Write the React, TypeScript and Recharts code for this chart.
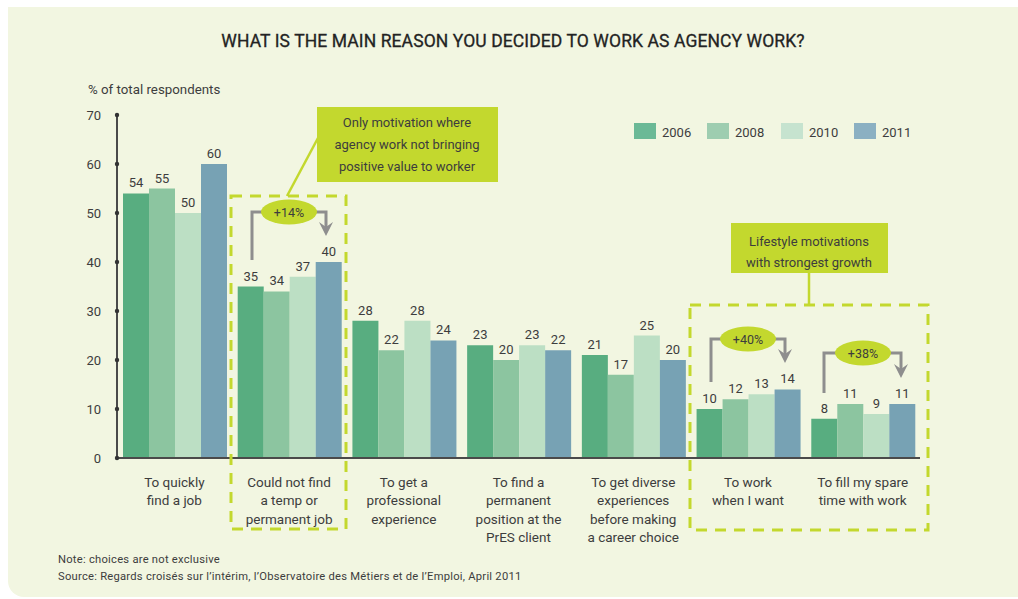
import { BarChart, Bar, XAxis, YAxis, LabelList, Legend } from 'recharts'

const categories = [
  'To quickly\nfind a job',
  'Could not find\na temp or\npermanent job',
  'To get a\nprofessional\nexperience',
  'To find a\npermanent\nposition at the\nPrES client',
  'To get diverse\nexperiences\nbefore making\na career choice',
  'To work\nwhen I want',
  'To fill my spare\ntime with work',
]
const v2006 = [54, 35, 28, 23, 21, 10, 8]
const v2008 = [55, 34, 22, 20, 17, 12, 11]
const v2010 = [50, 37, 28, 23, 25, 13, 9]
const v2011 = [60, 40, 24, 22, 20, 14, 11]
const yTicks = [0, 10, 20, 30, 40, 50, 60, 70]

const series = [
  { key: 'y2006', name: '2006', color: '#58ad80', legend: '#6bb996' },
  { key: 'y2008', name: '2008', color: '#8cc5a0', legend: '#9ecdb0' },
  { key: 'y2010', name: '2010', color: '#bcdfc4', legend: '#c6e3cf' },
  { key: 'y2011', name: '2011', color: '#77a2b4', legend: '#8bb0c2' },
]

const data = categories.map((c, i) => ({
  name: c,
  y2006: v2006[i],
  y2008: v2008[i],
  y2010: v2010[i],
  y2011: v2011[i],
}))

const FONT = 'Roboto, "DejaVu Sans", sans-serif'
const TEXT = '#3d3d3d'
const LIME = '#c3d82e'
const GRAY = '#8e8e8e'

function YTick(props: any) {
  const { x, y, payload } = props
  return (
    <g>
      <circle cx={x + 16} cy={y} r={2.2} fill="#333" />
      <text x={x} y={y + 5} textAnchor="end" fontSize={13} fill={TEXT} fontFamily={FONT}>
        {payload.value}
      </text>
    </g>
  )
}

function XTick(props: any) {
  const { x, y, payload } = props
  const lines = String(payload.value).split('\n')
  return (
    <text x={x} y={y} textAnchor="middle" fontSize={13.5} fill={TEXT} fontFamily={FONT}>
      {lines.map((l, i) => (
        <tspan key={i} x={x} y={y + 29 + i * 18.3}>
          {l}
        </tspan>
      ))}
    </text>
  )
}

function LegendBox() {
  const xs = [634, 707, 781, 854]
  return (
    <svg width={300} height={24} style={{ overflow: 'visible', display: 'block' }}>
      {series.map((s, i) => (
        <g key={s.key}>
          <rect x={xs[i] - 634} y={0} width={22} height={16} fill={s.legend} />
          <text x={xs[i] - 634 + 28} y={14} fontSize={13} fill={TEXT} fontFamily={FONT}>
            {s.name}
          </text>
        </g>
      ))}
    </svg>
  )
}

function Arrow({ x, y }: { x: number; y: number }) {
  return <path d={`M${x},${y} L${x - 7},${y - 14} L${x},${y - 9} L${x + 7},${y - 14} Z`} fill={GRAY} />
}

function Growth({ cx, cy, left, leftBottom, right, tip, label }: any) {
  return (
    <g>
      <path d={`M${left},${leftBottom} L${left},${cy} L${cx - 26},${cy}`} stroke={GRAY} strokeWidth={3} fill="none" />
      <path d={`M${cx + 26},${cy} L${right},${cy} L${right},${tip - 6}`} stroke={GRAY} strokeWidth={3} fill="none" />
      <Arrow x={right} y={tip} />
      <ellipse cx={cx} cy={cy} rx={28} ry={12.5} fill={LIME} />
      <text x={cx} y={cy + 4.5} textAnchor="middle" fontSize={12.5} fill={TEXT} fontFamily={FONT}>
        {label}
      </text>
    </g>
  )
}

function Annotations() {
  return (
    <svg width={1018} height={599} style={{ position: 'absolute', left: 0, top: 0, pointerEvents: 'none' }}>
      {/* box 1 */}
      <rect x={231} y={196} width={115} height={333} fill="none" stroke={LIME} strokeWidth={3} strokeDasharray="11 8" />
      <line x1={318} y1={138} x2={287} y2={196} stroke={LIME} strokeWidth={2.5} />
      <rect x={317} y={107} width={181} height={75} fill={LIME} />
      {['Only motivation where', 'agency work not bringing', 'positive value to worker'].map((t, i) => (
        <text key={i} x={407} y={127 + i * 22} textAnchor="middle" fontSize={13} fill={TEXT} fontFamily={FONT}>
          {t}
        </text>
      ))}
      <Growth cx={289} cy={212} left={252} leftBottom={260} right={326} tip={236} label="+14%" />

      {/* box 2 */}
      <rect x={690} y={305} width={238} height={225} fill="none" stroke={LIME} strokeWidth={3} strokeDasharray="11 8" />
      <line x1={809} y1={272} x2={809} y2={305} stroke={LIME} strokeWidth={2.5} />
      <rect x={731} y={223} width={157} height={50} fill={LIME} />
      {['Lifestyle motivations', 'with strongest growth'].map((t, i) => (
        <text key={i} x={809} y={246 + i * 21} textAnchor="middle" fontSize={13} fill={TEXT} fontFamily={FONT}>
          {t}
        </text>
      ))}
      <Growth cx={748} cy={339} left={711} leftBottom={382} right={785} tip={363} label="+40%" />
      <Growth cx={863} cy={353} left={824} leftBottom={393} right={901} tip={378} label="+38%" />
    </svg>
  )
}

export default function App() {
  return (
    <div style={{ position: 'absolute', left: 0, top: 0, width: 1018, height: 599, background: '#fff', fontFamily: FONT }}>
      <div
        style={{
          position: 'absolute',
          left: 8,
          top: 7,
          width: 1010,
          height: 590,
          background: '#f2f6e1',
          borderBottomLeftRadius: 16,
        }}
      />
      <div style={{ position: 'absolute', left: 0, top: 31, width: 1026, textAlign: 'center', fontSize: 17.5, fontWeight: 400, color: '#232323', letterSpacing: 0.1, WebkitTextStroke: '0.3px #232323' }}>
        WHAT IS THE MAIN REASON YOU DECIDED TO WORK AS AGENCY WORK?
      </div>
      <div style={{ position: 'absolute', left: 88, top: 82, fontSize: 13.3, color: TEXT }}>% of total respondents</div>
      <div style={{ position: 'absolute', left: 0, top: 0 }}>
        <BarChart
          width={1018}
          height={599}
          data={data}
          margin={{ top: 115, right: 98, left: 57, bottom: 111 }}
          barCategoryGap={6}
          barGap={0}
        >
          <XAxis
            dataKey="name"
            interval={0}
            tick={<XTick />}
            tickLine={false}
            tickSize={0}
            tickMargin={0}
            axisLine={{ stroke: '#4a4a4a', strokeWidth: 2 }}
            height={30}
          />
          <YAxis
            domain={[0, 70]}
            ticks={yTicks}
            width={60}
            tickSize={0}
            tickMargin={16}
            tick={<YTick />}
            axisLine={{ stroke: '#4a4a4a', strokeWidth: 2 }}
          />
          <Legend
            layout="horizontal"
            verticalAlign="middle"
            align="center"
            content={<LegendBox />}
            wrapperStyle={{ position: 'absolute', left: 634, top: 123, width: 300, height: 24 }}
          />
          {series.map((s) => (
            <Bar key={s.key} dataKey={s.key} name={s.name} fill={s.color} isAnimationActive={false}>
              <LabelList dataKey={s.key} position="top" offset={6} fill={TEXT} fontSize={13} fontFamily={FONT} />
            </Bar>
          ))}
        </BarChart>
      </div>
      <Annotations />
      <div style={{ position: 'absolute', left: 58, top: 551, fontSize: 11.2, color: TEXT, lineHeight: '17px', letterSpacing: 0.25 }}>
        <div>Note: choices are not exclusive</div>
        <div>Source: Regards croisés sur l’intérim, l’Observatoire des Métiers et de l’Emploi, April 2011</div>
      </div>
    </div>
  )
}
